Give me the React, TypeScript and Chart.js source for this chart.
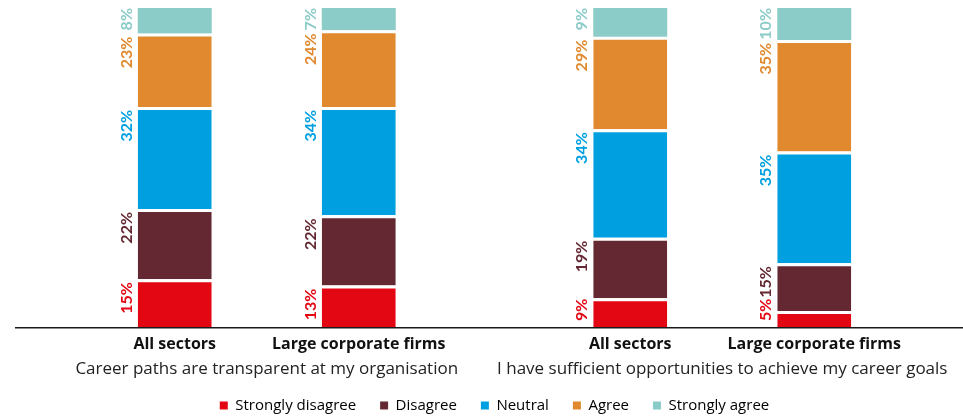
import React, { useEffect, useRef } from "react";
import { Chart, registerables } from "chart.js";

Chart.register(...registerables);

// Questions (x-axis categories)
const questions = [
  "Career paths are transparent at my organisation",
  "I have sufficient opportunities to achieve my career goals",
];
// Stacks within each question
const segments = ["All sectors", "Large corporate firms"];
// Response levels (legend)
const levels = ["Strongly disagree", "Disagree", "Neutral", "Agree", "Strongly agree"];
const colors = ["#E30613", "#632831", "#00A0E0", "#E0892E", "#8BCBC8"];

// All sectors, values per question
const allStronglyDisagree = [15, 9];
const allDisagree = [22, 19];
const allNeutral = [32, 34];
const allAgree = [23, 29];
const allStronglyAgree = [8, 9];

// Large corporate firms, values per question
const largeStronglyDisagree = [13, 5];
const largeDisagree = [22, 15];
const largeNeutral = [34, 35];
const largeAgree = [24, 35];
const largeStronglyAgree = [7, 10];

const allSeries = [allStronglyDisagree, allDisagree, allNeutral, allAgree, allStronglyAgree];
const largeSeries = [largeStronglyDisagree, largeDisagree, largeNeutral, largeAgree, largeStronglyAgree];

const FONT = "'Open Sans'";
const VALUE_FONT = "Lato";
const GAP = 3;

const labelsPlugin = {
  id: "customLabels",
  afterDatasetsDraw(chart: any) {
    const { ctx, chartArea } = chart;
    const xScale = chart.scales.x;
    ctx.save();
    // axis line
    ctx.strokeStyle = "#1a1a1a";
    ctx.lineWidth = 1.5;
    ctx.beginPath();
    ctx.moveTo(15, chartArea.bottom + 0.75);
    ctx.lineTo(chart.width, chartArea.bottom + 0.75);
    ctx.stroke();

    // value labels
    ctx.font = `bold 16px ${VALUE_FONT}`;
    chart.data.datasets.forEach((ds: any, di: number) => {
      const meta = chart.getDatasetMeta(di);
      meta.data.forEach((bar: any, j: number) => {
        const v = ds.data[j];
        const text = `${v}%`;
        const w = ctx.measureText(text).width;
        const left = bar.x - bar.width / 2;
        const border = ds.levelIndex === 4 ? 0 : GAP;
        let yStart = bar.y + border;
        const limit = chartArea.bottom - 6;
        if (yStart + w > limit) yStart = limit - w;
        ctx.save();
        ctx.translate(left - 11, yStart);
        ctx.rotate(-Math.PI / 2);
        ctx.textAlign = "right";
        ctx.textBaseline = "middle";
        ctx.fillStyle = ds.backgroundColor;
        ctx.fillText(text, 0, 0);
        ctx.restore();
      });
    });

    // stack labels under the bars
    ctx.font = `bold 16px ${FONT}`;
    ctx.fillStyle = "#111";
    ctx.textAlign = "center";
    ctx.textBaseline = "middle";
    [0, 5].forEach((di, s) => {
      const meta = chart.getDatasetMeta(di);
      meta.data.forEach((bar: any) => {
        ctx.fillText(segments[s], bar.x, chartArea.bottom + 17);
      });
    });

    // question labels (category axis labels)
    ctx.font = `17px ${FONT}`;
    ctx.fillStyle = "#222";
    questions.forEach((q, i) => {
      ctx.fillText(q, xScale.getPixelForValue(i), chartArea.bottom + 42);
    });
    ctx.restore();
  },
};

export default function App() {
  const ref = useRef<HTMLCanvasElement | null>(null);
  useEffect(() => {
    document.body.style.margin = "0";
    if (!ref.current) return;
    const datasets: any[] = [];
    [allSeries, largeSeries].forEach((series, s) => {
      series.forEach((data, l) => {
        datasets.push({
          label: levels[l],
          data,
          levelIndex: l,
          stack: segments[s],
          backgroundColor: colors[l],
          borderColor: "#ffffff",
          borderWidth: l === 4 ? 0 : { top: GAP, right: 0, bottom: 0, left: 0 },
          categoryPercentage: 0.808,
          barPercentage: 0.402,
        });
      });
    });
    const chart = new Chart(ref.current, {
      type: "bar",
      data: { labels: questions, datasets },
      plugins: [labelsPlugin],
      options: {
        responsive: false,
        animation: false,
        layout: { padding: { left: 39, right: 13, top: 8, bottom: -6 } },
        plugins: {
          tooltip: { enabled: false },
          legend: {
            position: "bottom",
            labels: {
              boxWidth: 8,
              boxHeight: 8,
              padding: 24,
              color: "#222",
              font: { family: FONT, size: 15 },
              generateLabels: () =>
                levels.map((t, i) => ({
                  text: t,
                  fillStyle: colors[i],
                  strokeStyle: colors[i],
                  lineWidth: 0,
                  datasetIndex: i,
                  hidden: false,
                })),
            },
          },
        },
        scales: {
          x: {
            stacked: true,
            grid: { display: false, drawTicks: false },
            border: { display: false },
            ticks: { display: false },
            afterFit: (scale: any) => {
              scale.height = 47;
              scale.paddingLeft = 0;
              scale.paddingRight = 0;
            },
          },
          y: {
            stacked: true,
            display: false,
            min: 0,
            max: 100,
          },
        },
      },
    });
    return () => chart.destroy();
  }, []);
  return (
    <div style={{ width: 963, height: 417 }}>
      <canvas ref={ref} width={963} height={417} />
    </div>
  );
}
